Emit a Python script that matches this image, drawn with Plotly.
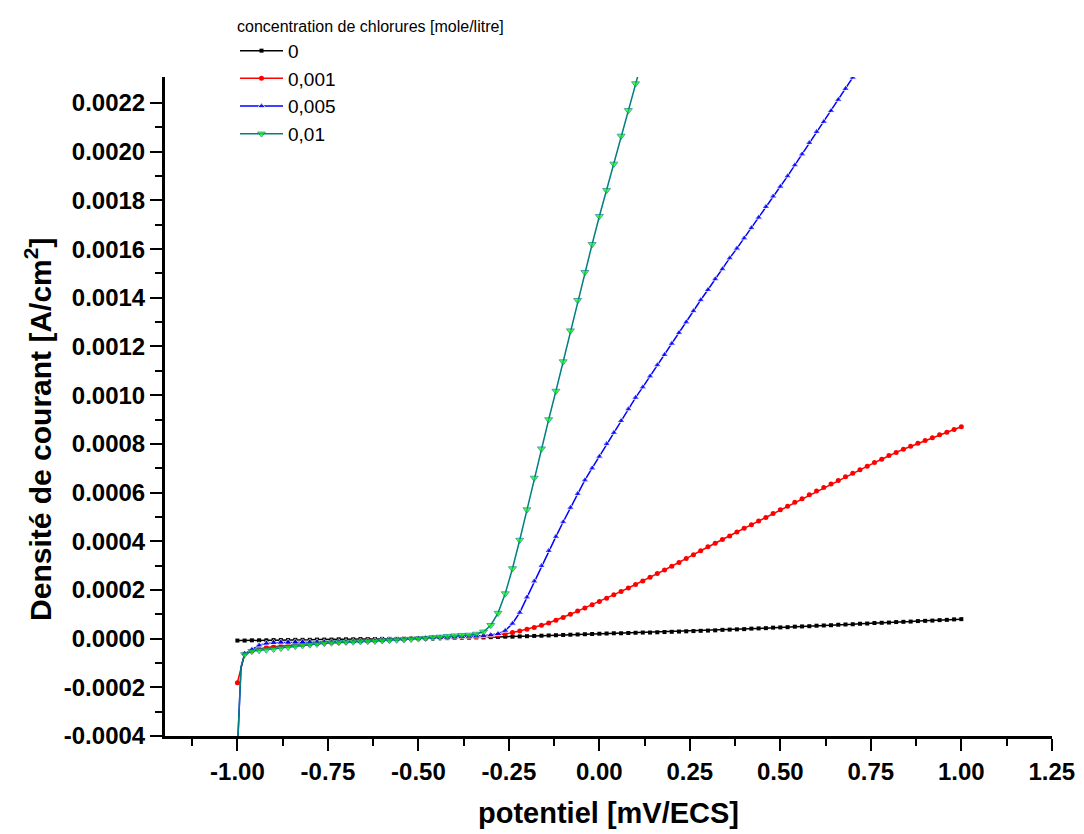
import plotly.graph_objects as go

# ---------------- data (current density in units of 1e-4 A/cm^2) ----------------
SCALE = 1e-4

potential = [
    -1.00, -0.98, -0.96, -0.94, -0.92, -0.90, -0.88, -0.86, -0.84, -0.82,
    -0.80, -0.78, -0.76, -0.74, -0.72, -0.70, -0.68, -0.66, -0.64, -0.62,
    -0.60, -0.58, -0.56, -0.54, -0.52, -0.50, -0.48, -0.46, -0.44, -0.42,
    -0.40, -0.38, -0.36, -0.34, -0.32, -0.30, -0.28, -0.26, -0.24, -0.22,
    -0.20, -0.18, -0.16, -0.14, -0.12, -0.10, -0.08, -0.06, -0.04, -0.02,
    0.00, 0.02, 0.04, 0.06, 0.08, 0.10, 0.12, 0.14, 0.16, 0.18,
    0.20, 0.22, 0.24, 0.26, 0.28, 0.30, 0.32, 0.34, 0.36, 0.38,
    0.40, 0.42, 0.44, 0.46, 0.48, 0.50, 0.52, 0.54, 0.56, 0.58,
    0.60, 0.62, 0.64, 0.66, 0.68, 0.70, 0.72, 0.74, 0.76, 0.78,
    0.80, 0.82, 0.84, 0.86, 0.88, 0.90, 0.92, 0.94, 0.96, 0.98, 1.00,
]
start_potential = [-1.00, -0.99]

j_0 = [
    -0.08, -0.08, -0.07, -0.07, -0.07, -0.06, -0.06, -0.06, -0.05, -0.05,
    -0.05, -0.04, -0.04, -0.04, -0.03, -0.03, -0.03, -0.02, -0.02, -0.02,
    -0.01, -0.01, -0.01, 0.00, 0.00, 0.00, 0.01, 0.01, 0.02, 0.02,
    0.03, 0.04, 0.04, 0.05, 0.05, 0.06, 0.07, 0.08, 0.08, 0.09,
    0.10, 0.11, 0.12, 0.13, 0.14, 0.15, 0.16, 0.17, 0.18, 0.19,
    0.20, 0.21, 0.22, 0.22, 0.23, 0.24, 0.25, 0.25, 0.26, 0.27,
    0.28, 0.29, 0.30, 0.31, 0.32, 0.33, 0.34, 0.36, 0.37, 0.38,
    0.39, 0.41, 0.42, 0.43, 0.45, 0.46, 0.47, 0.49, 0.50, 0.51,
    0.53, 0.54, 0.55, 0.57, 0.58, 0.59, 0.61, 0.62, 0.64, 0.65,
    0.66, 0.68, 0.69, 0.70, 0.72, 0.73, 0.74, 0.76, 0.77, 0.79, 0.80,
]

j_0001 = [
    -1.81, -0.62, -0.50, -0.42, -0.36, -0.33, -0.30, -0.28, -0.26, -0.24,
    -0.22, -0.20, -0.18, -0.16, -0.15, -0.14, -0.12, -0.11, -0.10, -0.09,
    -0.07, -0.06, -0.04, -0.03, -0.01, 0.00, 0.01, 0.03, 0.04, 0.05,
    0.06, 0.07, 0.08, 0.09, 0.10, 0.12, 0.15, 0.19, 0.25, 0.31,
    0.38, 0.46, 0.55, 0.64, 0.75, 0.87, 1.00, 1.13, 1.26, 1.39,
    1.52, 1.66, 1.80, 1.94, 2.08, 2.22, 2.37, 2.52, 2.67, 2.82,
    2.97, 3.13, 3.29, 3.45, 3.61, 3.77, 3.92, 4.07, 4.22, 4.38,
    4.53, 4.68, 4.83, 4.98, 5.14, 5.29, 5.44, 5.60, 5.75, 5.91,
    6.06, 6.21, 6.35, 6.50, 6.65, 6.79, 6.94, 7.08, 7.23, 7.37,
    7.52, 7.65, 7.78, 7.90, 8.02, 8.14, 8.25, 8.37, 8.48, 8.59, 8.70,
]

# first two values at -1.00 and -0.99 V, then from -0.98 V on the regular grid
j_0005 = [
    -4.60, -1.20,
    -0.62, -0.45, -0.27, -0.20, -0.17, -0.16, -0.16, -0.15, -0.15,
    -0.15, -0.15, -0.15, -0.15, -0.14, -0.14, -0.13, -0.12, -0.11, -0.10,
    -0.08, -0.06, -0.05, -0.03, -0.01, 0.00, 0.02, 0.03, 0.04, 0.05,
    0.06, 0.08, 0.09, 0.10, 0.12, 0.15, 0.20, 0.33, 0.62, 1.07,
    1.70, 2.36, 2.99, 3.61, 4.19, 4.79, 5.38, 5.95, 6.51, 7.00,
    7.48, 8.00, 8.46, 8.95, 9.43, 9.90, 10.33, 10.78, 11.24, 11.66,
    12.12, 12.56, 13.00, 13.46, 13.91, 14.33, 14.77, 15.18, 15.63, 16.03,
    16.45, 16.87, 17.30, 17.74, 18.17, 18.57, 19.00, 19.45, 19.90, 20.37,
    20.82, 21.23, 21.68, 22.14, 22.59, 23.05, 23.50,
]

j_001 = [
    -4.60, -1.15,
    -0.65, -0.52, -0.48, -0.46, -0.43, -0.39, -0.35, -0.31, -0.28,
    -0.25, -0.22, -0.19, -0.17, -0.15, -0.14, -0.13, -0.12, -0.11, -0.10,
    -0.08, -0.07, -0.05, -0.04, -0.02, 0.00, 0.02, 0.05, 0.07, 0.10,
    0.12, 0.14, 0.15, 0.19, 0.28, 0.55, 1.05, 1.85, 2.88, 4.05,
    5.30, 6.60, 7.80, 9.00, 10.17, 11.38, 12.65, 13.90, 15.05, 16.20,
    17.35, 18.42, 19.50, 20.65, 21.70, 22.80, 23.85,
]

series_names = ["0", "0,001", "0,005", "0,01"]
legend_title = "concentration de chlorures [mole/litre]"
x_title = "potentiel [mV/ECS]"
y_title = "Densité de courant [A/cm<sup>2</sup>]"

x_tick_values = [-1.00, -0.75, -0.50, -0.25, 0.00, 0.25, 0.50, 0.75, 1.00, 1.25]
x_tick_labels = ["-1.00", "-0.75", "-0.50", "-0.25", "0.00", "0.25", "0.50",
                 "0.75", "1.00", "1.25"]
x_minor_values = [-1.125, -0.875, -0.625, -0.375, -0.125, 0.125, 0.375, 0.625,
                  0.875, 1.125]
y_tick_values = [-0.0004, -0.0002, 0.0, 0.0002, 0.0004, 0.0006, 0.0008, 0.0010,
                 0.0012, 0.0014, 0.0016, 0.0018, 0.0020, 0.0022]
y_tick_labels = ["-0.0004", "-0.0002", "0.0000", "0.0002", "0.0004", "0.0006",
                 "0.0008", "0.0010", "0.0012", "0.0014", "0.0016", "0.0018",
                 "0.0020", "0.0022"]
y_minor_values = [-0.0003, -0.0001, 0.0001, 0.0003, 0.0005, 0.0007, 0.0009,
                  0.0011, 0.0013, 0.0015, 0.0017, 0.0019, 0.0021]

# ---------------- figure ----------------
FONT = "Liberation Sans, Arial, Helvetica, sans-serif"

x_black = potential[:len(j_0)]
x_red = potential[:len(j_0001)]
x_blue = start_potential + potential[1:len(j_0005) - 1]
x_green = start_potential + potential[1:len(j_001) - 1]

fig = go.Figure()

fig.add_trace(go.Scatter(
    x=x_black, y=[v * SCALE for v in j_0], name=series_names[0],
    mode="lines+markers",
    line=dict(color="#000000", width=1.5),
    marker=dict(symbol="square", size=4, color="#000000"),
))
fig.add_trace(go.Scatter(
    x=x_red, y=[v * SCALE for v in j_0001], name=series_names[1],
    mode="lines+markers",
    line=dict(color="#ff0000", width=1.5),
    marker=dict(symbol="circle", size=5, color="#ff0000"),
))
fig.add_trace(go.Scatter(
    x=x_blue, y=[v * SCALE for v in j_0005], name=series_names[2],
    mode="lines+markers",
    line=dict(color="#0000ff", width=1.5),
    marker=dict(symbol="triangle-up", size=[0, 0] + [7] * (len(j_0005) - 2),
                color="#0000ff"),
))
fig.add_trace(go.Scatter(
    x=x_green, y=[v * SCALE for v in j_001], name=series_names[3],
    mode="lines+markers",
    line=dict(color="#008080", width=1.5),
    marker=dict(symbol="triangle-down", size=[0, 0] + [7] * (len(j_001) - 2),
                color="#00ff00"),
))

axis_common = dict(
    showgrid=False, zeroline=False, showline=True,
    linecolor="black", linewidth=3, automargin=False,
    ticks="outside", tickwidth=2, tickcolor="black", ticklen=12,
    tickangle=0,
    tickfont=dict(family=FONT, size=24, color="black", weight="bold"),
)

fig.update_xaxes(
    range=[-1.2, 1.2505], tickmode="array",
    tickvals=x_tick_values, ticktext=x_tick_labels,
    minor=dict(tickmode="array", tickvals=x_minor_values, ticks="outside",
               ticklen=7, tickwidth=2, tickcolor="black"),
    **axis_common,
)
fig.update_yaxes(
    range=[-0.00040005, 0.002307], tickmode="array",
    tickvals=y_tick_values, ticktext=y_tick_labels,
    minor=dict(tickmode="array", tickvals=y_minor_values, ticks="outside",
               ticklen=7, tickwidth=2, tickcolor="black"),
    **axis_common,
)

fig.update_layout(
    width=1084, height=834, autosize=False,
    margin=dict(l=165, r=32, t=77, b=98, pad=0, autoexpand=False),
    paper_bgcolor="white", plot_bgcolor="white",
    font=dict(family=FONT, color="black"),
    showlegend=True,
    legend=dict(
        xref="container", yref="container",
        x=235 / 1084, y=1 - 11 / 834, xanchor="left", yanchor="top",
        bgcolor="rgba(0,0,0,0)", borderwidth=0,
        title=dict(text=legend_title, font=dict(family=FONT, size=16, color="black")),
        font=dict(family=FONT, size=19, color="black"),
        itemwidth=43,
    ),
    annotations=[
        dict(text=x_title, xref="paper", yref="paper", x=0.5, y=-0.1168,
             xanchor="center", yanchor="middle", showarrow=False,
             font=dict(family=FONT, size=29, color="black", weight="bold")),
        dict(text=y_title, xref="paper", yref="paper", x=-0.1432, y=0.4659,
             xanchor="center", yanchor="middle", showarrow=False, textangle=-90,
             font=dict(family=FONT, size=30, color="black", weight="bold")),
    ],
)

fig.write_html("out.html")
